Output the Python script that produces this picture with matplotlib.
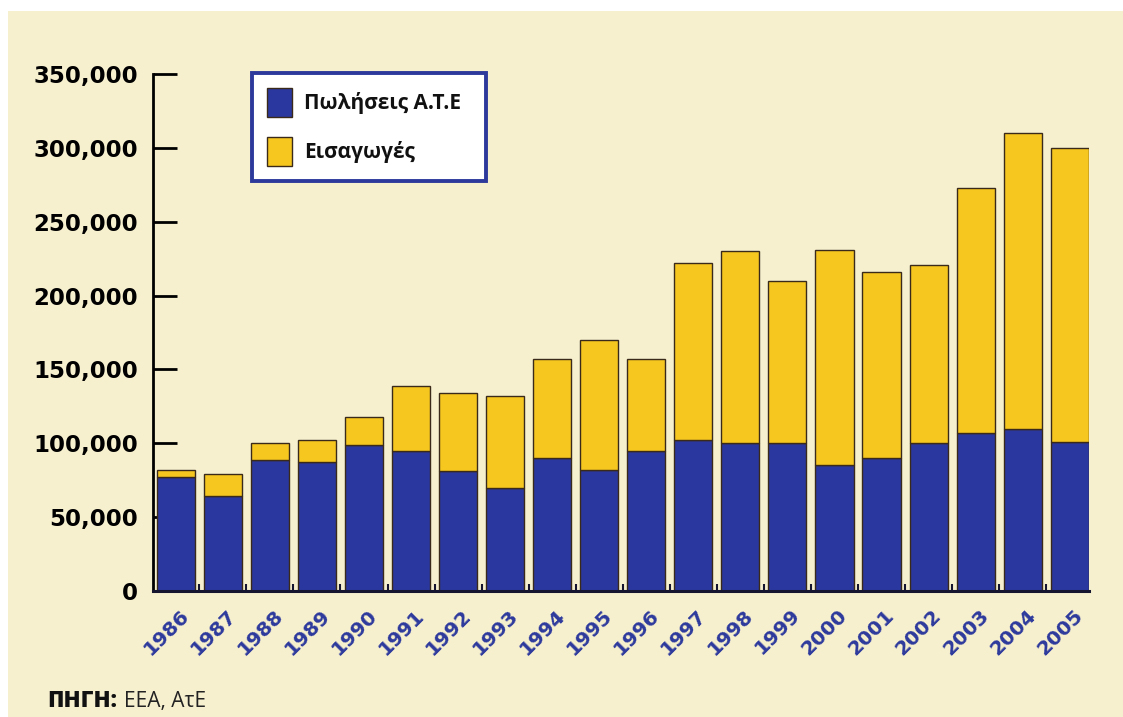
import matplotlib
matplotlib.use("Agg")
import matplotlib.pyplot as plt
import matplotlib.transforms as mtransforms
from matplotlib.patches import Patch, Rectangle
from matplotlib.ticker import FuncFormatter, FixedLocator

# --- Data ---
years = ["1986", "1987", "1988", "1989", "1990", "1991", "1992", "1993", "1994", "1995",
         "1996", "1997", "1998", "1999", "2000", "2001", "2002", "2003", "2004", "2005"]
sales_ate = [77000, 64000, 89000, 87000, 99000, 95000, 81000, 70000, 90000, 82000,
             95000, 102000, 100000, 100000, 85000, 90000, 100000, 107000, 110000, 101000]
imports = [5000, 15000, 11000, 15000, 19000, 44000, 53000, 62000, 67000, 88000,
           62000, 120000, 130000, 110000, 146000, 126000, 121000, 166000, 200000, 199000]
y_ticks = [0, 50000, 100000, 150000, 200000, 250000, 300000, 350000]
legend_labels = ["Πωλήσεις Α.Τ.Ε", "Εισαγωγές"]

# --- Style ---
BLUE = "#2a379f"
YELLOW = "#f6c71e"
CREAM = "#f7f0cf"
EDGE = "#3a2a1a"

W, H = 1123, 717
fig = plt.figure(figsize=(W / 100, H / 100), dpi=100)
fig.patch.set_facecolor("white")
# scanned page background (thin white margin top / left)
fig.patches.append(Rectangle((8 / W, 0), 1 - 8 / W, 1 - 11 / H, transform=fig.transFigure,
                             facecolor=CREAM, edgecolor="none", zorder=-1))

ax = fig.add_axes([153 / W, 1 - 591 / H, (1089 - 153) / W, (591 - 74) / H])
ax.set_facecolor("none")
ax.set_axisbelow(True)

x = list(range(len(years)))
ax.bar(x, sales_ate, width=0.81, color=BLUE, edgecolor=EDGE, linewidth=1.0)
ax.bar(x, imports, width=0.81, bottom=sales_ate, color=YELLOW, edgecolor=EDGE, linewidth=1.0)

ax.set_xlim(-0.485, len(years) - 1 + 0.41)
ax.set_ylim(0, 350000)

for s in ["top", "right"]:
    ax.spines[s].set_visible(False)
ax.spines["left"].set_linewidth(2.0)
ax.spines["left"].set_color("black")
ax.spines["bottom"].set_linewidth(2.2)
ax.spines["bottom"].set_color("#151530")

# y axis: inward ticks, bold labels
ax.set_yticks(y_ticks)
ax.yaxis.set_major_formatter(FuncFormatter(lambda v, p: f"{v:,.0f}"))
ax.tick_params(axis="y", direction="in", length=17, width=2, color="black", pad=11,
               labelsize=16.5, labelcolor="black")
for lab in ax.get_yticklabels():
    lab.set_fontweight("bold")
    lab.set_family("DejaVu Sans")

# x axis: small inward ticks between bars, rotated blue year labels
ax.set_xticks(x)
ax.set_xticklabels([])
ax.tick_params(axis="x", which="major", length=0)
ax.xaxis.set_minor_locator(FixedLocator([i + 0.5 for i in x[:-1]]))
ax.tick_params(axis="x", which="minor", direction="in", length=5, width=1.5, color="#151530")

trans = mtransforms.blended_transform_factory(ax.transData, ax.transAxes)
for i, yr in zip(x, years):
    ax.text(i + 0.07, -0.028, yr, transform=trans, rotation=45, rotation_mode="anchor",
            ha="right", va="top", fontsize=14.5, fontweight="bold", color="#2d3a9c",
            family="DejaVu Sans")

# legend
handles = [Patch(facecolor=BLUE, edgecolor=EDGE, linewidth=1.0),
           Patch(facecolor=YELLOW, edgecolor=EDGE, linewidth=1.0)]
leg = fig.legend(handles, legend_labels, loc="upper left", mode="expand",
                 bbox_to_anchor=(252 / W, 1 - 185 / H, (486 - 252) / W, (185 - 73) / H),
                 bbox_transform=fig.transFigure,
                 borderaxespad=0, frameon=True, fancybox=False, framealpha=1,
                 facecolor="white", edgecolor="#2d3a9c",
                 prop={"family": "Open Sans", "weight": "bold", "size": 15},
                 handlelength=1.2, handleheight=1.8, handletextpad=0.6,
                 labelspacing=0.95, borderpad=0.7)
leg.get_frame().set_linewidth(2.8)
for t in leg.get_texts():
    t.set_color("#111111")
leg.set_zorder(4)

# source note
fig.text(47 / W, 1 - 707 / H, "ΠΗΓΗ:", fontsize=16, fontweight="heavy", family="Open Sans",
         color="#111111", ha="left", va="baseline")
fig.text(124 / W, 1 - 707 / H, "ΕΕΑ, ΑτΕ", fontsize=15, family="Open Sans",
         color="#222222", ha="left", va="baseline")

fig.savefig("out.png", dpi=100, facecolor=fig.get_facecolor())
